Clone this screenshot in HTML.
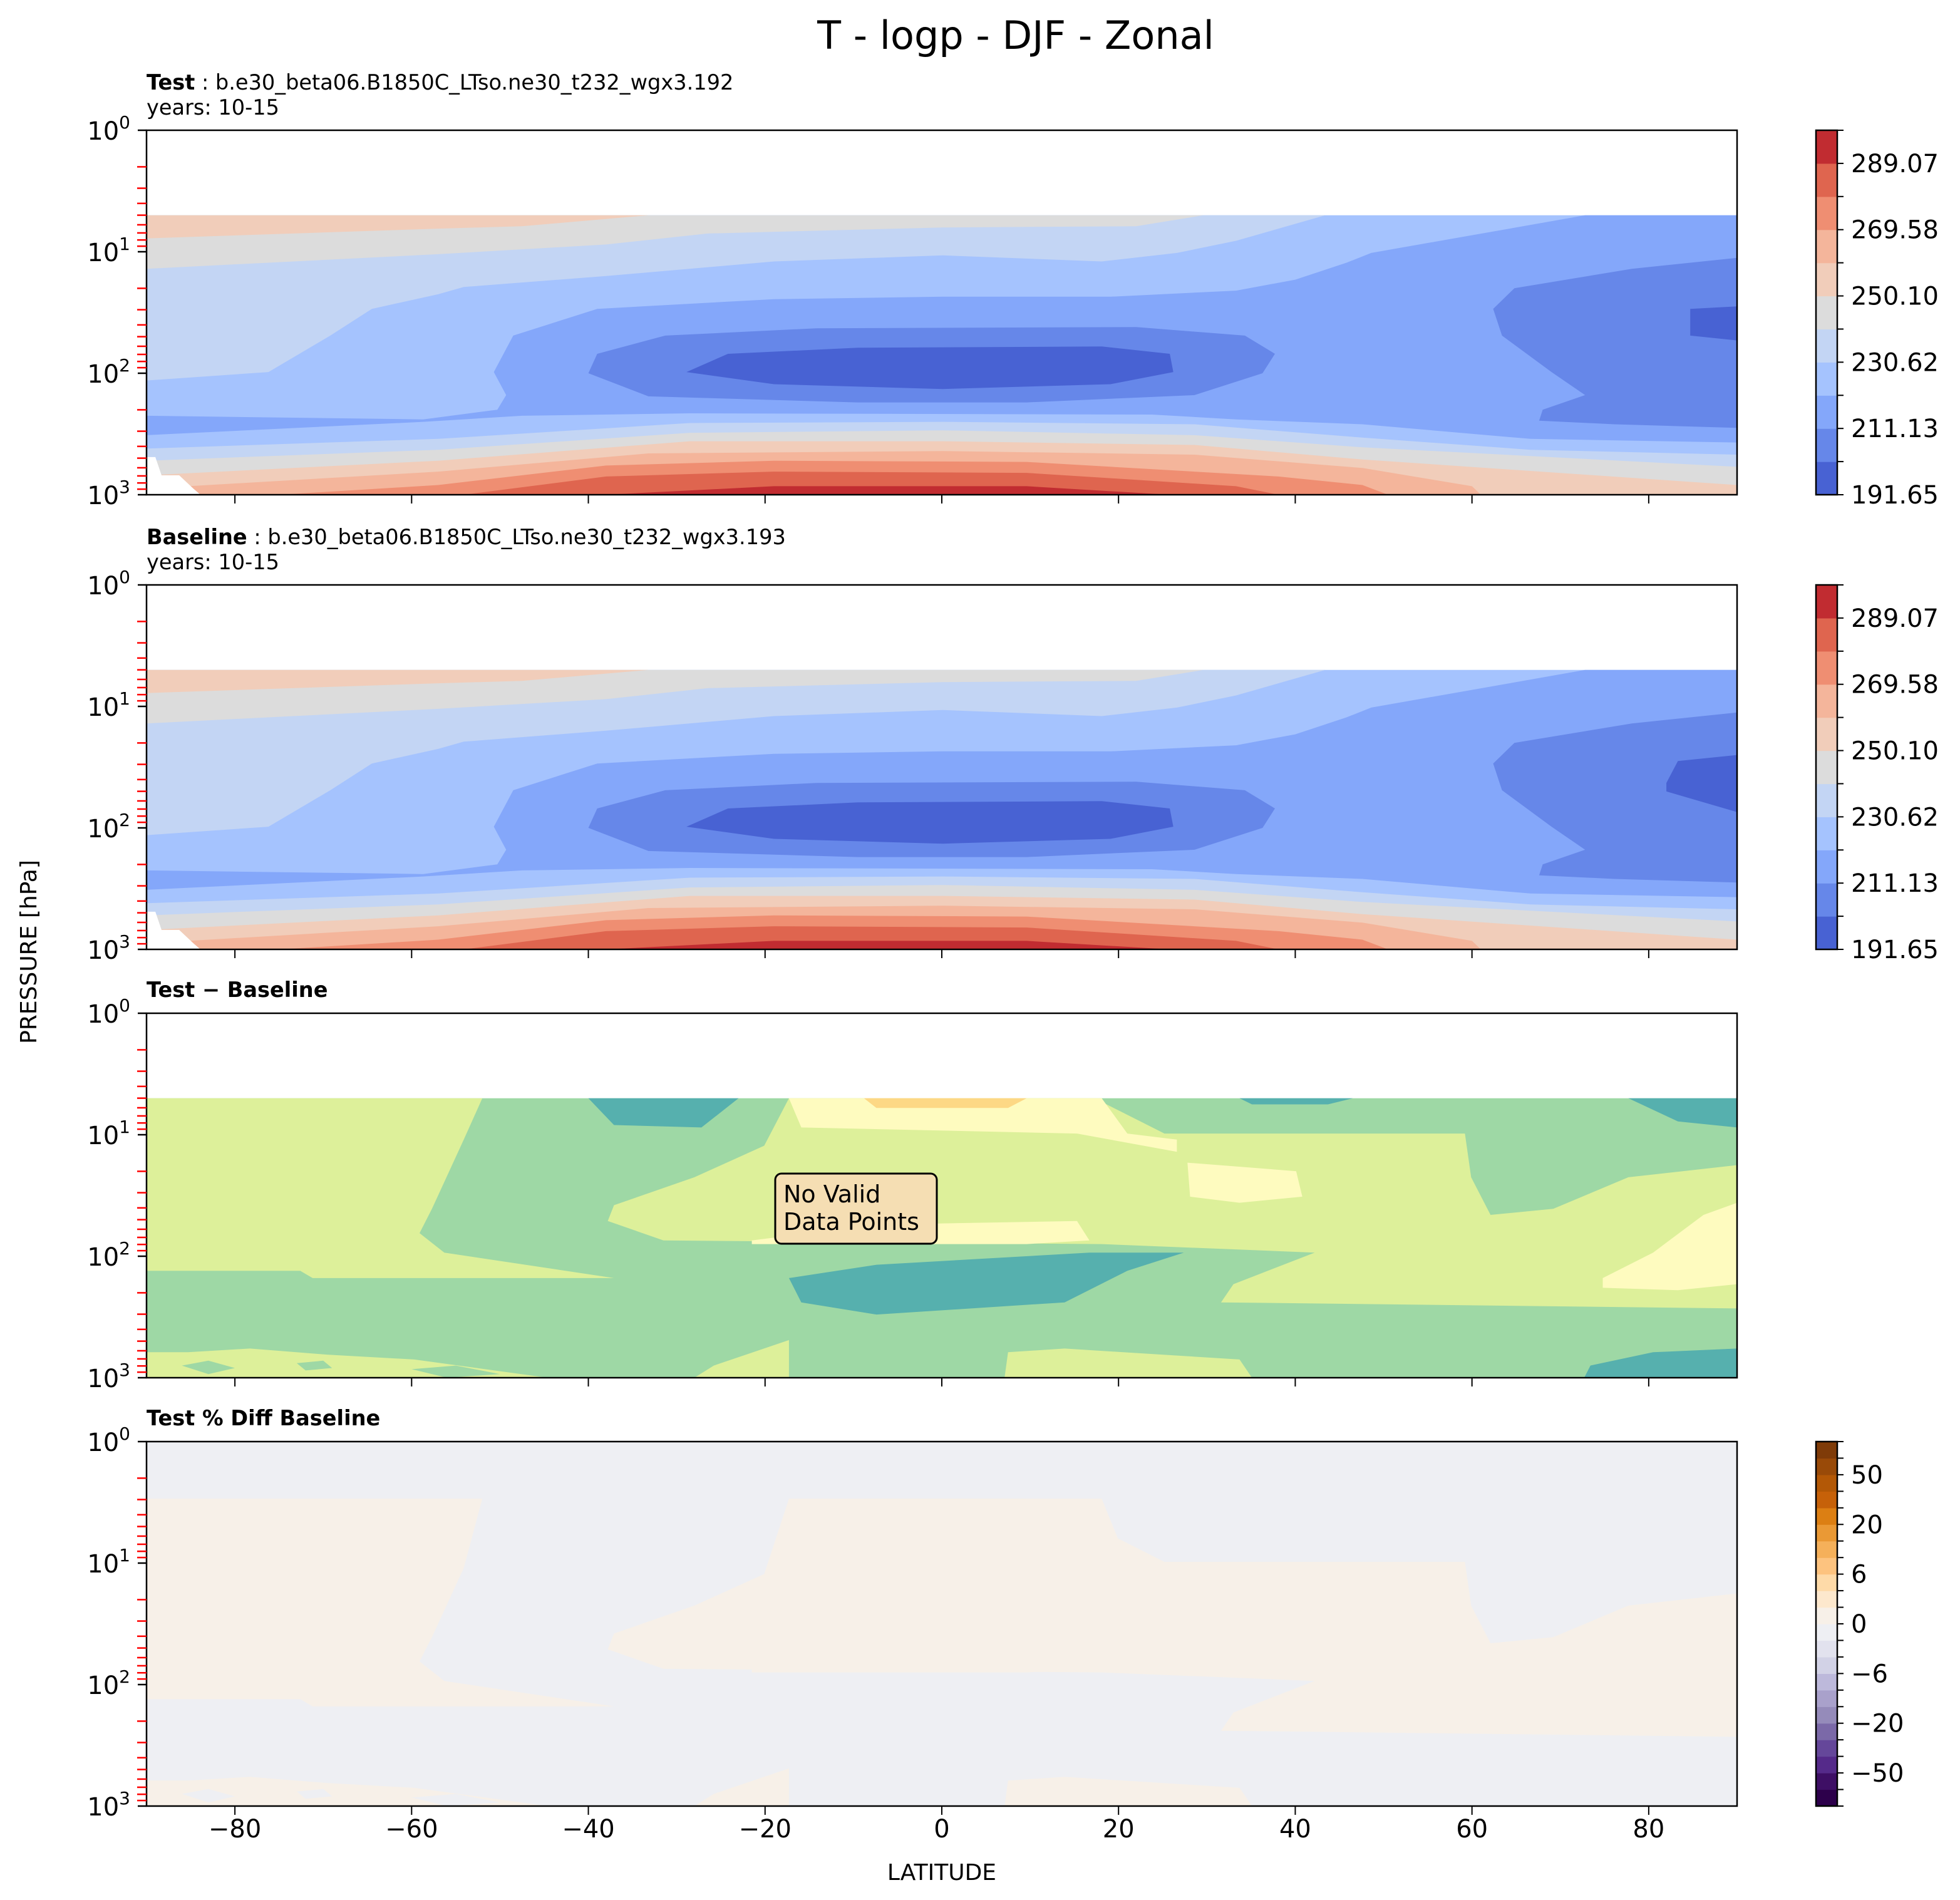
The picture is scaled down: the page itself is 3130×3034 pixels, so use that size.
<!DOCTYPE html>
<html><head><meta charset="utf-8"><style>
html,body{margin:0;padding:0;background:#fff;}
svg{display:block;font-family:"DejaVu Sans","Liberation Sans",sans-serif;}
</style></head><body>
<svg id="fig" xmlns="http://www.w3.org/2000/svg" width="3130" height="3034" viewBox="0 0 3130 3034">
<rect x="0" y="0" width="3130" height="3034" fill="#fff"/>
<text x="1622" y="78" font-size="62" text-anchor="middle">T - logp - DJF - Zonal</text>
<text x="234" y="143" font-size="33.6"><tspan font-weight="bold">Test</tspan> : b.e30_beta06.B1850C_LTso.ne30_t232_wgx3.192</text>
<text x="234" y="183" font-size="33.6">years: 10-15</text>
<text x="234" y="869" font-size="33.6"><tspan font-weight="bold">Baseline</tspan> : b.e30_beta06.B1850C_LTso.ne30_t232_wgx3.193</text>
<text x="234" y="909" font-size="33.6">years: 10-15</text>
<text x="234" y="1592" font-size="33.6" font-weight="bold">Test − Baseline</text>
<text x="234" y="2276" font-size="33.6" font-weight="bold">Test % Diff Baseline</text>
<text x="0" y="0" font-size="36" text-anchor="middle" transform="translate(58,1520) rotate(-90)">PRESSURE [hPa]</text>
<text x="1504" y="3002" font-size="36" text-anchor="middle">LATITUDE</text>
</svg>
<script>
// ---- data (lat, log10 p) ----
const tempLevels = ["191.65","201.39","211.13","220.88","230.62","240.36","250.10","259.84","269.58","279.33","289.07","298.81"];
const tempColors = ["#4862d3","#6687e9","#84a7fa","#a5c3fe","#c3d5f4","#dcdcdc","#f1cdba","#f4b59b","#ef8e72","#df654f","#c12c31"];
const tempBand4Upper = [[-90,0.7],[43.4,0.7],[33.3,0.91],[26.6,1.01],[18.1,1.08],[0.1,1.03],[-19,1.08],[-38,1.20],[-54.1,1.29],[-57,1.35],[-64.5,1.47],[-69.2,1.69],[-76.2,1.99],[-90,2.06]];
const tempBand5Upper = [[-90,0.7],[29.6,0.7],[22,0.79],[0.1,0.80],[-26.5,0.85],[-38,0.94],[-57,1.02],[-90,1.14]];
const tempBand6Upper = [[-90,0.7],[-33.2,0.7],[-47.5,0.79],[-57,0.81],[-90,0.89]];
const tempBand2Main = [[-90,2.35],[-58.7,2.38],[-50.3,2.30],[-49.3,2.18],[-50.7,1.99],[-48.5,1.69],[-39,1.47],[-19,1.39],[0.1,1.37],[19.1,1.37],[33.3,1.32],[40,1.23],[45.8,1.09],[48.6,1.01],[72.8,0.7],[90,0.7],[90,2.57],[66.6,2.54],[47.6,2.42],[33.3,2.38],[23.8,2.34],[-28.5,2.33],[-47.5,2.35],[-58.7,2.40],[-90,2.51]];
const tempBand1Mid = [[-39,1.84],[-31.3,1.69],[-14.2,1.63],[22,1.62],[34.3,1.69],[37.7,1.84],[36.3,2.0],[28.6,2.18],[9.6,2.24],[-9.5,2.24],[-33.2,2.19],[-40,2.0]];
const tempBand1Right = [[90,1.05],[78.1,1.14],[64.8,1.30],[62.4,1.47],[63.4,1.69],[69,1.99],[72.8,2.18],[68,2.30],[67.6,2.39],[76.1,2.42],[90,2.45]];
const tempBand0Mid = [[-24.2,1.84],[-9.5,1.79],[18.1,1.78],[25.8,1.84],[26.2,1.99],[19.1,2.09],[0.1,2.13],[-19,2.09],[-28.9,1.99]];
const testBand0Right = [[84.7,1.47],[90,1.45],[90,1.73],[84.7,1.69]];
const baseBand0Right = [[82,1.63],[83.3,1.45],[90,1.40],[90,1.87],[82,1.70]];
const arch4 = [[-90,2.62],[-57,2.54],[-28.5,2.41],[0.1,2.40],[28.6,2.42],[47.6,2.53],[66.6,2.63],[90,2.67]];
const arch5 = [[-90,2.72],[-57,2.63],[-28.5,2.49],[0.1,2.47],[28.6,2.51],[47.6,2.61],[90,2.77]];
const arch6 = [[-90,2.84],[-57,2.72],[-28.5,2.56],[0.1,2.56],[28.6,2.59],[47.6,2.71],[90,2.92]];
const arch7 = [[-90,2.95],[-57,2.81],[-33.2,2.66],[0.1,2.64],[28.6,2.67],[47.6,2.78],[60,2.93],[61,3.0],[90,3.05]];
const arch8 = [[-90,3.05],[-75,3.0],[-57,2.92],[-38,2.76],[-19,2.72],[9.6,2.73],[38.1,2.85],[47.6,2.92],[50.5,3.0],[90,3.1]];
const arch9 = [[-90,3.1],[-54.1,3.0],[-38,2.85],[-19,2.81],[9.6,2.82],[33.3,2.93],[38.1,3.0],[90,3.1]];
const arch10 = [[-90,3.1],[-38,3.0],[-19,2.93],[9.6,2.93],[25.8,3.0],[90,3.1]];
const topoMask = [[-90,2.69],[-89,2.69],[-88.3,2.84],[-86.3,2.84],[-84.7,2.95],[-83.9,3.0],[-90,3.0]];
// difference field
const diffColors = {yg:"#ddf09a", green:"#9ed8a5", teal:"#56b0ae", pale:"#fefbbf", orange:"#fdd885"};
const diffYG1 = [[-90,0.7],[-52,0.7],[-54.1,1.04],[-57.7,1.61],[-59.1,1.81],[-56.3,1.97],[-37.1,2.18],[-71.2,2.18],[-72.6,2.12],[-90,2.12]];
const diffYG2 = [[-17.3,0.7],[-20.1,1.09],[-28,1.35],[-37.1,1.58],[-37.8,1.71],[-31.5,1.87],[18.1,1.90],[42.2,1.97],[33,2.23],[31.6,2.38],[90,2.43],[90,1.25],[77.7,1.35],[69.2,1.61],[62.1,1.66],[59.9,1.35],[59.2,0.99],[25.2,0.99],[18.1,0.73],[18.1,0.7]];
const diffYG3 = [[-90,2.79],[-85.3,2.79],[-78.3,2.76],[-69.6,2.81],[-59.7,2.85],[-44.6,3.0],[-90,3.0]];
const diffGreenSpots = [[[-86,2.9],[-83,2.86],[-80,2.92],[-83,2.97]],[[-73,2.88],[-70,2.86],[-69,2.92],[-72,2.94]],[[-60,2.93],[-55,2.9],[-50,2.97],[-56,3.0]]];
const diffYG4 = [[-25.8,2.90],[-17.3,2.69],[-17.3,3.0],[-28,3.0]];
const diffYG5 = [[7.5,2.79],[13.9,2.76],[33.7,2.85],[35.1,3.0],[7.1,3.0]];
const diffTealMid = [[-17.3,2.18],[-15.9,2.38],[-7.4,2.48],[13.9,2.38],[21,2.12],[27.4,1.97],[16.7,1.97],[-7.4,2.07]];
const diffTealTop = [[-40,0.7],[-23,0.7],[-27.2,0.94],[-37.1,0.92]];
const diffTealTopRight = [[33.7,0.7],[46.5,0.7],[43.7,0.75],[35.1,0.75]];
const diffTealRight = [[77.7,0.7],[90,0.7],[90,0.94],[83.3,0.89]];
const diffTealBottomRight = [[73.4,2.90],[80.5,2.79],[90,2.76],[90,3.0],[72.7,3.0]];
const diffPaleTop = [[-17.3,0.7],[18.1,0.7],[21,0.99],[26.6,1.04],[26.6,1.14],[15.3,0.99],[-15.9,0.94]];
const diffPale2 = [[27.8,1.23],[40.1,1.30],[40.8,1.51],[33.7,1.56],[28.1,1.51]];
const diffPale3 = [[-21.5,1.87],[-7.4,1.74],[15.3,1.71],[16.7,1.87],[9.6,1.90],[-21.5,1.90]];
const diffPale4 = [[74.8,2.18],[80.5,1.97],[86.2,1.66],[90,1.56],[90,2.23],[83.3,2.28],[74.8,2.26]];
const diffOrange = [[-8.8,0.7],[9.6,0.7],[7.5,0.78],[-7.4,0.78]];
const pctColors = ["#7f3b08","#994a08","#b35806","#c66109","#dc7f13","#ea9935","#f5b05a","#fdc37f","#fedaa8","#fde8cd","#f7f0e8","#eeeff3","#e2e2ee","#d2d2e6","#bdb9db","#a9a1cb","#958bba","#7b69a8","#65479a","#552a8a","#3e0f65","#2d004b"];
const pctLabels = ["50","20","6","0","−6","−20","−50"];
const xTicks = [-80,-60,-40,-20,0,20,40,60,80];
const xTickLabels = ["−80","−60","−40","−20","0","20","40","60","80"];
const yDecades = [0,1,2,3];

// ---- layout ----
const NS = "http://www.w3.org/2000/svg";
const svg = document.getElementById("fig");
const AX_L = 234, AX_R = 2774, AX_H = 582;
const panelTops = [208, 934, 1618, 2302];
function xS(lat){ return AX_L + (lat + 90) / 180 * (AX_R - AX_L); }
function yS(lp, top){ return top + lp * AX_H / 3; }
function mk(tag, attrs, parent){
  const e = document.createElementNS(NS, tag);
  for (const k in attrs) e.setAttribute(k, attrs[k]);
  (parent || svg).appendChild(e);
  return e;
}
function poly(pts, top, color, g, name, mapTop){
  const s = pts.map(p => {
    let lp = p[1];
    if (mapTop !== undefined && lp <= 0.7) lp = mapTop;
    return xS(p[0]).toFixed(1) + "," + yS(lp, top).toFixed(1);
  }).join(" ");
  const e = mk("polygon", {points: s, fill: color}, g);
  
  
  return e;
}
function arch(pts, top, color, g, name){
  return poly(pts.concat([[90,3.4],[-90,3.4]]), top, color, g, name);
}
function makePanel(i){
  const top = panelTops[i];
  const defs = mk("defs", {});
  const cp = mk("clipPath", {id: "clip" + i}, defs);
  mk("rect", {x: AX_L, y: top, width: AX_R - AX_L, height: AX_H}, cp);
  const g = mk("g", {"clip-path": "url(#clip" + i + ")"});
  
  
  return g;
}
function drawTemp(i, core){
  const top = panelTops[i];
  const g = makePanel(i);
  poly([[-90,0.7],[90,0.7],[90,3],[-90,3]], top, tempColors[3], g, 'band-220-230');
  poly(tempBand4Upper, top, tempColors[4], g, 'band-230-240-upper');
  poly(tempBand5Upper, top, tempColors[5], g, 'band-240-250-upper');
  poly(tempBand6Upper, top, tempColors[6], g, 'band-250-260-upper');
  poly(tempBand2Main, top, tempColors[2], g, 'band-211-220');
  poly(tempBand1Mid, top, tempColors[1], g, 'band-201-211-mid');
  poly(tempBand1Right, top, tempColors[1], g, 'band-201-211-right');
  poly(tempBand0Mid, top, tempColors[0], g, 'band-191-201-mid');
  poly(core, top, tempColors[0], g, 'band-191-201-right');
  arch(arch4, top, tempColors[4], g, 'band-230-240-lower');
  arch(arch5, top, tempColors[5], g, 'band-240-250-lower');
  arch(arch6, top, tempColors[6], g, 'band-250-260-lower');
  arch(arch7, top, tempColors[7], g, 'band-260-270');
  arch(arch8, top, tempColors[8], g, 'band-270-279');
  arch(arch9, top, tempColors[9], g, 'band-279-289');
  arch(arch10, top, tempColors[10], g, 'band-289-299');
  poly(topoMask, top, "#ffffff", g, 'topography-mask');
}
function drawDiff(i, pct){
  const top = panelTops[i];
  const g = makePanel(i);
  const mt = pct ? 0.47 : undefined;
  const neg = pct ? "#eeeff3" : diffColors.green;
  const pos = pct ? "#f7f0e8" : diffColors.yg;
  const C = pct ? {teal:neg, pale:pos, orange:pos} : diffColors;
  if (pct) poly([[-90,0],[90,0],[90,3],[-90,3]], top, neg, g, 'band-negative');
  else poly([[-90,0.7],[90,0.7],[90,3],[-90,3]], top, neg, g, 'band-negative');
  poly(diffYG1, top, pos, g, 'band-positive-left', mt);
  poly(diffYG2, top, pos, g, 'band-positive-mid', mt);
  poly(diffYG3, top, pos, g, 'band-positive-bottom-left', mt);
  diffGreenSpots.forEach(s => poly(s, top, neg, g, 'band-negative-spot', mt));
  poly(diffYG4, top, pos, g, 'band-positive-bottom-mid', mt);
  poly(diffYG5, top, pos, g, 'band-positive-bottom-right', mt);
  poly(diffTealMid, top, C.teal, g, 'band-strong-negative-mid', mt);
  poly(diffTealTop, top, C.teal, g, 'band-strong-negative-top', mt);
  poly(diffTealTopRight, top, C.teal, g, 'band-strong-negative-top-right', mt);
  poly(diffTealRight, top, C.teal, g, 'band-strong-negative-right', mt);
  poly(diffTealBottomRight, top, C.teal, g, 'band-strong-negative-bottom-right', mt);
  poly(diffPaleTop, top, C.pale, g, 'band-strong-positive-top', mt);
  poly(diffPale2, top, C.pale, g, 'band-strong-positive-2', mt);
  poly(diffPale3, top, C.pale, g, 'band-strong-positive-3', mt);
  poly(diffPale4, top, C.pale, g, 'band-strong-positive-4', mt);
  poly(diffOrange, top, C.orange, g, 'band-very-positive-top', mt);
}
function drawAxes(i, showX){
  const top = panelTops[i], bot = top + AX_H;
  const fr = mk("rect", {x: AX_L, y: top, width: AX_R - AX_L, height: AX_H, fill: "none", stroke: "#000", "stroke-width": 2.5});
  
  
  xTicks.forEach((v, k) => {
    const t = mk("line", {x1: xS(v), x2: xS(v), y1: bot, y2: bot + 14, stroke: "#000", "stroke-width": 2});
    
    
    if (showX) {
      const lb = mk("text", {x: xS(v), y: bot + 50, "font-size": 40, "text-anchor": "middle"});
      lb.textContent = xTickLabels[k];
      
      
    }
  });
  for (let d = 0; d < 3; d++) {
    for (let m = 2; m <= 9; m++) {
      const yy = yS(d + Math.log10(m), top);
      const t = mk("line", {x1: AX_L - 15, x2: AX_L, y1: yy, y2: yy, stroke: "#ff0000", "stroke-width": 2.5});
      
      
    }
  }
  yDecades.forEach(d => {
    const yy = yS(d, top);
    const t = mk("line", {x1: AX_L - 14, x2: AX_L, y1: yy, y2: yy, stroke: "#000", "stroke-width": 2.5});
    
    
    const lb = mk("text", {x: AX_L - 26, y: yy + 15, "font-size": 40, "text-anchor": "end"});
    
    
    const a = mk("tspan", {}, lb); a.textContent = "10";
    const b = mk("tspan", {dy: -18, "font-size": 28}, lb); b.textContent = String(d);
    
    
  });
}
function colorbar(top, colors, labelIdx, labels, name){
  const x0 = 2900, w = 34, h = AX_H, n = colors.length, bh = h / n;
  colors.forEach((c, k) => {
    const r = mk("rect", {x: x0, y: top + h - (k + 1) * bh, width: w, height: bh + 0.6, fill: c});
    
    
  });
  const fr = mk("rect", {x: x0, y: top, width: w, height: h, fill: "none", stroke: "#000", "stroke-width": 2.5});
  
  
  for (let k = 0; k <= n; k++) {
    const yy = top + h - k * bh;
    const t = mk("line", {x1: x0 + w, x2: x0 + w + 10, y1: yy, y2: yy, stroke: "#000", "stroke-width": 2});
    
    
  }
  labelIdx.forEach((k, j) => {
    const yy = top + h - k * bh;
    const lb = mk("text", {x: x0 + w + 22, y: yy + 14, "font-size": 40});
    lb.textContent = labels[j];
    
    
  });
}
drawTemp(0, testBand0Right);
drawTemp(1, baseBand0Right);
drawDiff(2, false);
drawDiff(3, true);
for (let i = 0; i < 4; i++) drawAxes(i, i === 3);
colorbar(panelTops[0], tempColors, [0,2,4,6,8,10], [tempLevels[0],tempLevels[2],tempLevels[4],tempLevels[6],tempLevels[8],tempLevels[10]], 'test-colorbar');
colorbar(panelTops[1], tempColors, [0,2,4,6,8,10], [tempLevels[0],tempLevels[2],tempLevels[4],tempLevels[6],tempLevels[8],tempLevels[10]], 'baseline-colorbar');
colorbar(panelTops[3], pctColors.slice().reverse(), [20,17,14,11,8,5,2], pctLabels, 'pctdiff-colorbar');
// annotation box
const box = mk("rect", {x: 1238, y: 1874, width: 258, height: 112, rx: 10, fill: "#f5deb3", stroke: "#000", "stroke-width": 3});


const t1 = mk("text", {x: 1251, y: 1920, "font-size": 38});
t1.textContent = "No Valid";


const t2 = mk("text", {x: 1251, y: 1964, "font-size": 38});
t2.textContent = "Data Points";


</script>
</body></html>
